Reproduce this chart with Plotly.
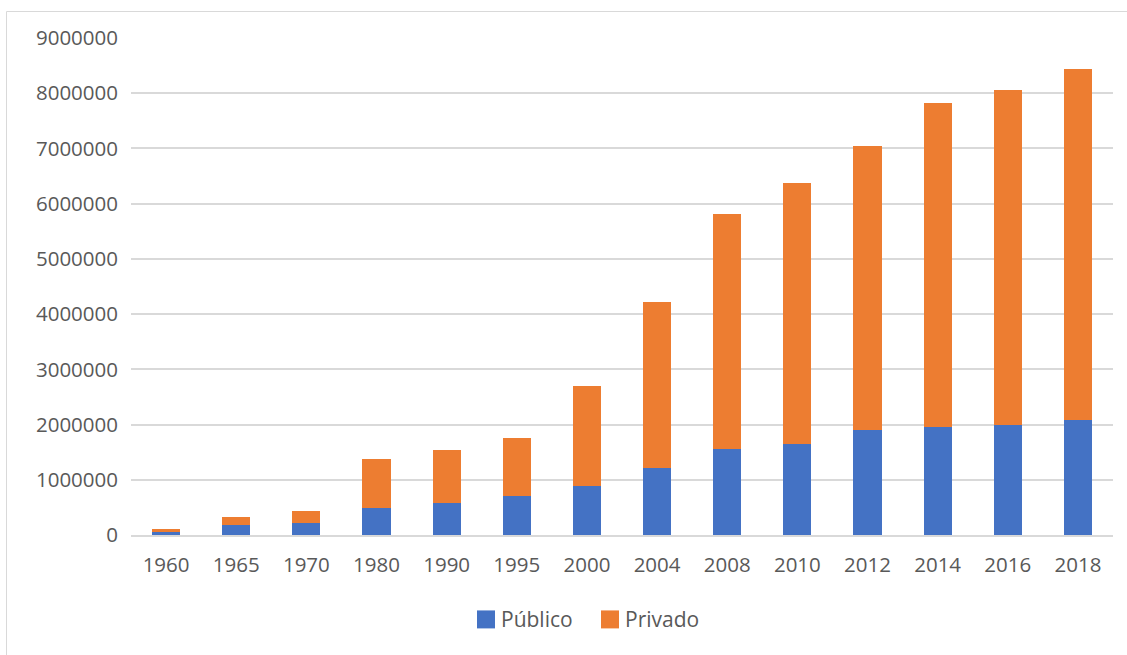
import plotly.graph_objects as go

years = ['1960', '1965', '1970', '1980', '1990', '1995', '2000', '2004',
         '2008', '2010', '2012', '2014', '2016', '2018']
publico = [60000, 190000, 210000, 497000, 575000, 700000, 880000, 1215000,
           1560000, 1640000, 1910000, 1960000, 1990000, 2080000]
total = [110000, 330000, 430000, 1383000, 1546000, 1763000, 2690000, 4220000,
         5810000, 6380000, 7040000, 7830000, 8050000, 8440000]
privado = [t - p for t, p in zip(total, publico)]
series_names = ['Público', 'Privado']
y_ticks = [0, 1000000, 2000000, 3000000, 4000000, 5000000, 6000000,
           7000000, 8000000, 9000000]

BLUE = '#4472C4'
ORANGE = '#ED7D31'
GREY_TXT = '#595959'
GRID = '#d9d9d9'
FONT = 'Open Sans'
FS = 20.5

W, H = 1127, 655
L, R, T, B = 131, 14, 38, 119.5
pw, ph = W - L - R, H - T - B

fig = go.Figure()
fig.add_trace(go.Bar(x=years, y=publico, name=series_names[0],
                     marker=dict(color=BLUE, line=dict(width=0))))
fig.add_trace(go.Bar(x=years, y=privado, name=series_names[1],
                     marker=dict(color=ORANGE, line=dict(width=0))))


def px_x(x):
    return (x - L) / pw


def px_y(y):
    return (H - B - y) / ph


shapes = [
    # outer light frame (top and left visible)
    dict(type='rect', xref='paper', yref='paper',
         x0=px_x(6.5), x1=px_x(1140), y0=px_y(670), y1=px_y(11.5),
         line=dict(color='#d9d9d9', width=1), fillcolor='rgba(0,0,0,0)',
         layer='below'),
    # legend squares
    dict(type='rect', xref='paper', yref='paper',
         x0=px_x(477), x1=px_x(495), y0=px_y(629), y1=px_y(611),
         line=dict(width=0), fillcolor=BLUE),
    dict(type='rect', xref='paper', yref='paper',
         x0=px_x(601), x1=px_x(619), y0=px_y(629), y1=px_y(611),
         line=dict(width=0), fillcolor=ORANGE),
]
annotations = [
    dict(xref='paper', yref='paper', x=px_x(499), y=px_y(620),
         text=series_names[0], showarrow=False, xanchor='left', yanchor='middle',
         font=dict(family=FONT, size=21, color=GREY_TXT)),
    dict(xref='paper', yref='paper', x=px_x(623), y=px_y(620),
         text=series_names[1], showarrow=False, xanchor='left', yanchor='middle',
         font=dict(family=FONT, size=21, color=GREY_TXT)),
]

fig.update_layout(
    width=W, height=H,
    margin=dict(l=L, r=R, t=T, b=B, pad=0),
    paper_bgcolor='white', plot_bgcolor='white',
    barmode='stack', bargap=0.6,
    showlegend=False,
    font=dict(family=FONT, size=FS, color=GREY_TXT),
    shapes=shapes, annotations=annotations,
    xaxis=dict(showgrid=False, showline=True, linecolor=GRID, linewidth=1.5,
               ticks='', ticklabelstandoff=11, fixedrange=True,
               tickfont=dict(family=FONT, size=FS, color=GREY_TXT)),
    yaxis=dict(range=[0, 9000000], tickvals=y_ticks,
               ticktext=[str(v) for v in y_ticks],
               showgrid=True, gridcolor=GRID, gridwidth=1.5,
               zeroline=False, showline=False, ticks='',
               ticklabelstandoff=12, fixedrange=True,
               tickfont=dict(family=FONT, size=FS, color=GREY_TXT)),
)

fig.write_html('out.html')
